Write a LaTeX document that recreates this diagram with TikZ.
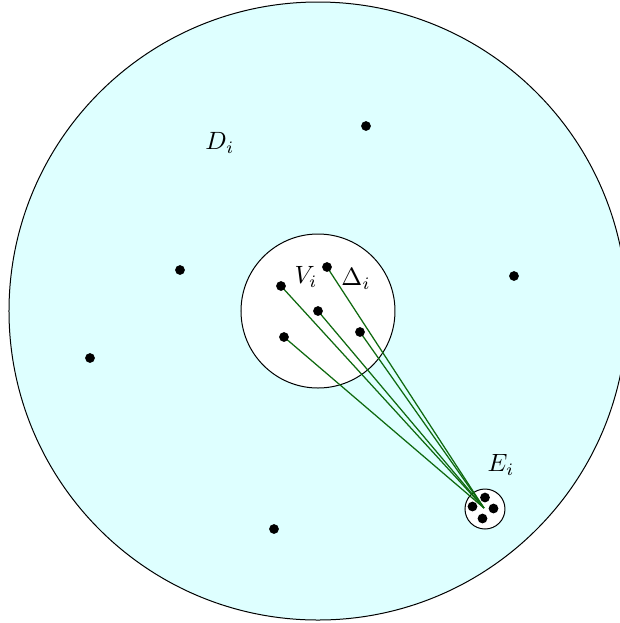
\documentclass[tikz,border=0pt]{standalone}
\usepackage{tikz}
\usepackage{xcolor}
\usetikzlibrary{positioning}

\definecolor{diskfill}{RGB}{222,255,255}
\definecolor{linkgreen}{RGB}{15,105,15}

\begin{document}
\begin{tikzpicture}[
  x=0.4pt, y=-0.4pt,
  region/.style={circle, draw=black, thin, inner sep=0pt},
  dot/.style={circle, fill=black, inner sep=0pt, minimum size=3.9pt},
  link/.style={draw=linkgreen, line width=0.5pt},
  lab/.style={inner sep=0pt},
]
\useasboundingbox (0,0) rectangle (620,623);
\clip (0,0) rectangle (620,623);

% the three regions
\node[region, fill=diskfill, minimum size=247.2pt] (D) at (318,311) {};
\node[region, fill=white, minimum size=61.6pt]     (V) at (318,311) {};
\node[region, fill=white, minimum size=16pt]       (E) at (485,509) {};

% points of D_i outside the inner disk
\node[dot] (d1) at (366,126) {};
\node[dot] (d2) at (180,270) {};
\node[dot] (d3) at (514,276) {};
\node[dot] (d4) at (90,358) {};
\node[dot] (d5) at (274,529) {};

% points of V_i, joined to E_i
\coordinate (e0) at (484,508);
\foreach \name/\px/\py in {v1/281/286, v2/327/267, v3/318/311,
                           v4/360/332, v5/284/337} {
  \coordinate (\name) at (\px,\py);
  \draw[link] (\name) -- (e0);
  \node[dot] at (\name) {};
}

% cluster E_i
\node[dot] (e1) at (485,497.5) {};
\node[dot] (e2) at (472.5,506.5) {};
\node[dot] (e3) at (493.5,508.5) {};
\node[dot] (e4) at (482.5,518.5) {};

% labels
\node[lab] (lD)     at (220,143) {$D_i$};
\node[lab] (lV)     at (306,277) {$V_i$};
\node[lab] (lDelta) at (356,279) {$\Delta_i$};
\node[lab] (lE)     at (501,465) {$E_i$};
\end{tikzpicture}
\end{document}
